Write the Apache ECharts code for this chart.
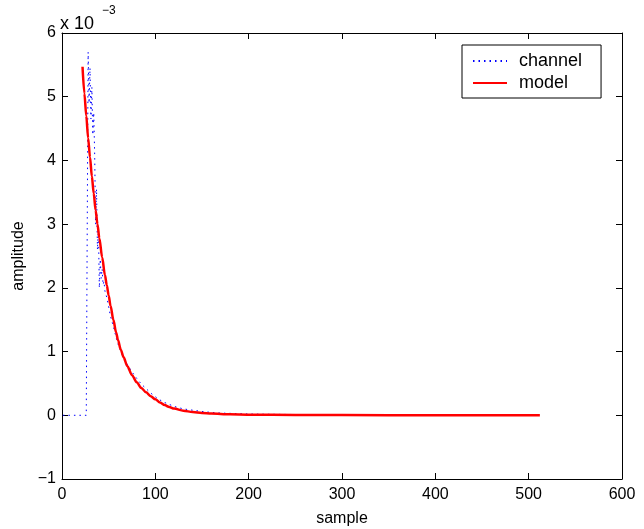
<!DOCTYPE html>
<html>
<head>
<meta charset="utf-8">
<script src="https://cdn.jsdelivr.net/npm/echarts@6/dist/echarts.min.js"></script>
<style>
html,body{margin:0;padding:0;background:#fff;}
#chart{width:644px;height:529px;}
</style>
</head>
<body>
<div id="chart"></div>
<script>
// values in units of 1e-3
var channelX = [1, 26, 27, 28, 29, 30, 31, 32, 33, 34, 35, 36, 37, 38, 39, 40, 41, 42, 43, 44, 45, 46, 48, 50, 52, 55, 58, 60, 65, 70, 75, 80, 85, 90, 95, 100, 105, 110, 115, 120, 130, 140, 150, 160, 170, 180, 200, 225, 250, 300, 350, 400, 450, 512];
var channelY = [0, 0, -0.03, 5.7, 4.9, 5.45, 4.65, 5.15, 4.4, 4.75, 4.1, 3.0, 3.55, 2.6, 2.95, 2.0, 2.45, 2.15, 2.3, 2.05, 2.1, 1.95, 1.85, 1.7, 1.55, 1.4, 1.22, 1.12, 0.93, 0.8, 0.68, 0.58, 0.49, 0.42, 0.35, 0.29, 0.24, 0.2, 0.17, 0.14, 0.1, 0.08, 0.06, 0.045, 0.035, 0.03, 0.02, 0.015, 0.012, 0.008, 0.006, 0.005, 0.004, 0.003];
var modelX = [22, 24, 26, 28, 30, 32, 34, 36, 38, 40, 43, 46, 48, 50, 52, 55, 58, 60, 63, 66, 70, 75, 80, 85, 90, 95, 100, 105, 110, 115, 120, 130, 140, 150, 160, 180, 200, 250, 300, 400, 512];
var modelY = [5.47, 5.05, 4.7, 4.35, 4.05, 3.75, 3.48, 3.22, 3.0, 2.78, 2.48, 2.2, 2.04, 1.88, 1.72, 1.5, 1.3, 1.18, 1.03, 0.91, 0.77, 0.63, 0.52, 0.43, 0.36, 0.3, 0.25, 0.2, 0.16, 0.13, 0.105, 0.072, 0.05, 0.036, 0.027, 0.015, 0.01, 0.005, 0.003, 0.001, 0.0005];
var xTicks = {min: 0, max: 600, interval: 100};
var yTicks = {min: -1, max: 6, interval: 1};
var seriesNames = ['channel', 'model'];
var yLabel = 'amplitude';
var xLabel = 'sample';

function pairs(xs, ys) { return xs.map(function (x, i) { return [x, ys[i]]; }); }

var FONT = 'Liberation Sans';
var chart = echarts.init(document.getElementById('chart'));
var axisCommon = {
  axisLine: {show: true, onZero: false, lineStyle: {color: '#000', width: 1}},
  axisTick: {show: true, inside: true, length: 6, lineStyle: {color: '#000'}},
  splitLine: {show: false}
};
chart.setOption({
  animation: false,
  backgroundColor: '#fff',
  grid: {left: 62, right: 22, top: 33, bottom: 50, containLabel: false, outerBoundsMode: 'none'},
  legend: {
    left: 462, top: 45,
    orient: 'vertical',
    backgroundColor: '#fff',
    borderColor: '#000', borderWidth: 1,
    padding: [7, 19, 6, 10],
    itemWidth: 34, itemHeight: 12, itemGap: 4,
    itemStyle: {opacity: 0},
    textStyle: {fontFamily: FONT, fontSize: 18, color: '#000', lineHeight: 17, padding: [0, 0, 0, 7]},
    data: seriesNames
  },
  xAxis: [
    Object.assign({type: 'value', position: 'bottom', min: xTicks.min, max: xTicks.max, interval: xTicks.interval,
      name: xLabel, nameLocation: 'middle', nameGap: 32,
      nameTextStyle: {fontFamily: FONT, fontSize: 16, color: '#000'},
      axisLabel: {fontFamily: FONT, fontSize: 16, color: '#000', margin: 8}}, axisCommon),
    Object.assign({type: 'value', position: 'top', min: xTicks.min, max: xTicks.max, interval: xTicks.interval,
      axisLabel: {show: false}}, axisCommon)
  ],
  yAxis: [
    Object.assign({type: 'value', position: 'left', min: yTicks.min, max: yTicks.max, interval: yTicks.interval,
      name: yLabel, nameLocation: 'middle', nameGap: 27,
      nameTextStyle: {fontFamily: FONT, fontSize: 16, color: '#000'},
      axisLabel: {fontFamily: FONT, fontSize: 16, color: '#000', margin: 6,
        formatter: function (v) { return String(v).replace('-', '\u2212'); }}}, axisCommon),
    Object.assign({type: 'value', position: 'right', min: yTicks.min, max: yTicks.max, interval: yTicks.interval,
      axisLabel: {show: false}}, axisCommon)
  ],
  graphic: [
    {type: 'text', left: 60, top: 15, style: {text: 'x 10', font: '18px "Liberation Sans"', fill: '#000'}},
    {type: 'text', left: 102, top: 5, style: {text: '\u22123', font: '12px "Liberation Sans"', fill: '#000'}}
  ],
  series: [
    {
      name: seriesNames[0], type: 'line', data: pairs(channelX, channelY),
      showSymbol: false, symbol: 'none',
      lineStyle: {color: '#0000ff', width: 1, type: [1.5, 4]},
      itemStyle: {color: '#0000ff'}, z: 2
    },
    {
      name: seriesNames[1], type: 'line', data: pairs(modelX, modelY),
      showSymbol: false, symbol: 'none', smooth: 0.3, smoothMonotone: 'x',
      lineStyle: {color: '#ff0000', width: 2.5},
      itemStyle: {color: '#ff0000'}, z: 3
    }
  ]
});
</script>
</body>
</html>
